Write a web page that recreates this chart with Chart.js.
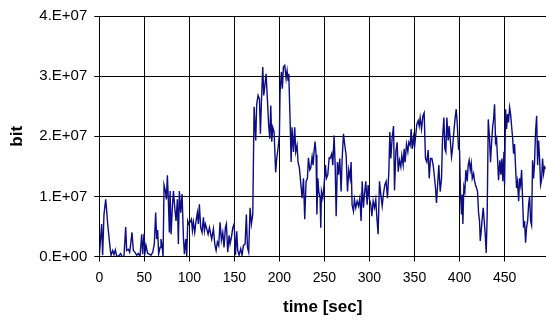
<!DOCTYPE html>
<html>
<head>
<meta charset="utf-8">
<script src="https://cdn.jsdelivr.net/npm/chart.js@4/dist/chart.umd.min.js"></script>
<style>
  html, body { margin: 0; padding: 0; background: #fff; overflow: hidden; }
  #wrap { width: 546px; height: 321px; position: relative; }
</style>
</head>
<body>
<div id="wrap"><canvas id="c" width="546" height="321"></canvas></div>
<script>
// time in seconds
const times = [
  0, 2.6, 3.7, 5.2, 7.1, 8.2, 9.3, 10.8, 11.9, 13.0, 14.9, 16.3, 17.8, 19.3, 21.1, 23.7, 25.2, 27.4, 29.3, 30.4,
  32.3, 33.7, 34.9, 36.3, 37.8, 39.7, 41.5, 43.4, 45.2, 47.1, 48.2, 49.7, 50.8, 51.9, 53.7, 55.6, 57.4, 59.3, 61.1, 62.6,
  63.7, 64.8, 65.9, 67.4, 68.5, 69.7, 70.8, 71.9, 73.4, 74.5, 75.6, 76.7, 77.8, 78.6, 79.7, 81.1, 82.3, 84.1, 85.2, 86.7,
  87.8, 88.9, 90.4, 91.9, 93.4, 94.5, 96.0, 97.1, 98.2, 99.3, 100.8, 102.3, 103.4, 104.5, 106.0, 107.4, 108.9, 110.0, 111.1, 112.6,
  114.1, 115.6, 116.7, 117.8, 119.3, 120.8, 122.3, 123.7, 124.8, 126.7, 128.2, 129.7, 131.1, 132.6, 134.1, 135.6, 137.1, 138.5, 140.0, 141.1,
  142.6, 144.1, 145.2, 146.7, 148.2, 149.7, 151.2, 152.6, 153.7, 155.2, 157.1, 158.5, 160.0, 161.9, 163.3, 164.5, 165.9, 167.4, 168.9, 170.4,
  171.9, 173.7, 174.8, 176.3, 177.8, 178.9, 180.0, 181.5, 182.6, 183.7, 185.2, 186.7, 188.1, 189.3, 190.4, 191.5, 192.6, 194.1, 195.8, 197.0,
  198.5, 200.0, 200.7, 202.2, 203.3, 204.4, 205.9, 207.4, 208.5, 209.6, 210.4, 211.9, 213.0, 214.0, 215.6, 217.0, 218.1, 219.6, 220.7, 222.2,
  223.7, 225.2, 226.7, 228.1, 229.6, 231.1, 232.2, 233.7, 234.8, 236.3, 237.4, 238.5, 239.6, 240.7, 241.6, 242.7, 243.7, 245.2, 245.9, 246.7,
  248.1, 249.6, 251.1, 252.2, 253.7, 255.2, 256.3, 258.1, 259.3, 260.7, 261.9, 263.0, 264.4, 265.6, 267.0, 268.5, 269.6, 271.1, 272.6, 274.1,
  275.6, 277.0, 278.5, 279.6, 280.7, 282.2, 283.3, 284.8, 286.3, 287.8, 289.3, 290.7, 291.9, 293.3, 294.4, 295.9, 297.4, 298.5, 300.0, 301.5,
  302.6, 304.1, 305.6, 307.0, 308.1, 309.6, 311.1, 312.6, 314.1, 315.6, 317.0, 318.5, 320.0, 321.5, 322.6, 323.7, 325.2, 326.7, 327.8, 329.3,
  330.7, 331.9, 333.3, 334.8, 335.9, 337.4, 338.5, 339.6, 341.1, 342.6, 343.7, 345.2, 346.3, 347.4, 348.9, 350.0, 351.5, 352.6, 354.1, 355.2,
  356.3, 357.8, 359.3, 360.7, 362.2, 363.7, 365.2, 366.3, 367.8, 369.3, 370.7, 371.9, 373.3, 374.4, 375.9, 377.0, 378.5, 380.0, 381.1, 382.6,
  383.7, 384.8, 385.9, 387.4, 388.5, 389.6, 391.1, 392.2, 393.3, 394.8, 396.3, 397.4, 398.9, 400.0, 401.1, 402.2, 403.0, 403.7, 404.8, 405.9,
  407.0, 408.5, 409.6, 410.7, 411.9, 413.0, 414.1, 415.6, 416.7, 417.8, 418.9, 420.0, 421.1, 422.2, 423.0, 424.1, 425.2, 426.3, 427.4, 428.5,
  429.6, 430.7, 431.9, 433.3, 434.4, 435.6, 436.7, 437.8, 438.9, 440.0, 441.1, 442.2, 443.3, 444.8, 445.9, 447.0, 448.1, 449.3, 450.0, 451.1,
  452.2, 453.3, 454.4, 455.6, 456.7, 457.8, 458.9, 460.0, 461.1, 462.2, 463.3, 464.4, 465.6, 466.7, 467.8, 468.9, 470.0, 471.1, 472.2, 473.3,
  474.4, 475.6, 476.7, 477.8, 478.9, 480.0, 481.1, 482.2, 483.3, 484.4, 485.6, 486.7, 487.8, 488.9, 490.0, 491.1, 492.2, 493.3, 494.4, 495.6
];
// bit values in millions (x 1e6 bit)
const bitsMillions = [
  0, 5.4, 0.2, 7.0, 9.5, 7.6, 5.4, 3.2, 1.5, 0.2, 1.0, 0.3, 1.1, 0.1, 0, 0.5, 0, 0, 4.9, 1.0,
  1.2, 0.7, 2.1, 4.0, 1.0, 0.7, 0.2, 0.5, 0, 3.7, 0.4, 3.8, 0.7, 1.8, 0.5, 0.4, 0.2, 0.7, 2.1, 7.3,
  2.9, 4.4, 0.4, 1.5, 2.9, 1.8, 0, 11.9, 10.9, 9.5, 13.5, 9.2, 4.0, 10.9, 3.7, 8.1, 10.9, 7.6, 5.9, 9.5,
  2.1, 10.9, 7.3, 10.4, 3.2, 0.4, 2.9, 0, 5.9, 5.4, 5.7, 6.2, 4.3, 5.7, 4.0, 5.9, 7.3, 5.4, 8.7, 4.8,
  4.0, 6.5, 4.3, 5.4, 4.6, 3.7, 4.8, 3.7, 2.9, 4.6, 2.1, 1.0, 2.4, 1.8, 5.7, 2.7, 4.0, 1.5, 4.8, 5.4,
  0.7, 3.5, 2.1, 3.2, 4.8, 5.4, 0.2, 4.2, 1.0, 0.2, 1.3, 0.2, 1.8, 2.1, 7.0, 1.5, 0.7, 8.1, 5.4, 7.0,
  24.9, 19.3, 25.4, 26.8, 26.2, 20.4, 25.7, 31.5, 26.8, 28.2, 30.4, 26.0, 21.8, 19.6, 25.1, 19.1, 21.5, 20.7, 14.0, 16.3,
  18.0, 20.2, 27.3, 30.7, 27.9, 31.5, 31.8, 29.6, 30.9, 29.3, 30.4, 22.4, 15.7, 21.5, 17.4, 21.5, 17.4, 18.5, 15.7, 14.7,
  12.2, 9.7, 13.0, 6.2, 12.5, 13.0, 16.4, 14.4, 14.7, 16.6, 15.2, 17.5, 19.1, 16.9, 7.0, 13.0, 10.8, 9.7, 4.8, 10.8,
  9.7, 11.9, 15.2, 13.0, 13.6, 16.4, 16.3, 17.1, 15.2, 20.1, 15.2, 6.7, 15.7, 13.6, 16.3, 10.8, 16.0, 20.4, 18.5, 16.8,
  10.8, 14.4, 13.0, 15.7, 8.6, 7.5, 9.5, 8.1, 9.2, 8.4, 9.7, 5.9, 12.5, 8.1, 10.3, 12.5, 8.6, 11.9, 9.5, 8.6,
  6.7, 9.2, 8.1, 9.5, 6.7, 3.7, 12.5, 10.3, 8.4, 10.5, 11.9, 12.5, 9.7, 14.1, 20.7, 16.3, 19.8, 21.7, 11.0, 17.4,
  19.0, 14.1, 16.0, 14.9, 16.8, 15.2, 17.9, 15.7, 18.7, 17.4, 19.0, 18.5, 21.2, 17.9, 19.8, 18.2, 20.4, 22.0, 22.6, 21.7,
  23.1, 21.2, 23.4, 23.9, 16.3, 15.7, 17.7, 13.0, 16.3, 16.3, 15.2, 13.6, 11.4, 8.9, 12.5, 15.2, 10.8, 13.0, 19.6, 23.1,
  17.9, 17.4, 23.1, 19.3, 21.7, 19.6, 16.6, 17.9, 20.1, 22.6, 24.5, 22.3, 17.9, 17.7, 10.3, 7.0, 10.3, 5.4, 11.6, 10.8,
  14.4, 12.5, 15.2, 16.0, 14.4, 15.5, 13.0, 13.8, 12.5, 11.9, 11.4, 10.8, 7.3, 5.9, 2.6, 4.3, 6.4, 8.1, 5.9, 3.7,
  0.6, 7.0, 22.8, 19.6, 15.7, 19.0, 21.5, 22.8, 25.3, 19.0, 19.6, 16.3, 12.7, 16.0, 13.6, 16.3, 12.5, 17.4, 11.9, 24.5,
  21.2, 23.7, 22.3, 24.8, 23.7, 21.7, 19.8, 17.1, 18.7, 14.9, 11.4, 12.5, 9.2, 13.0, 11.9, 14.4, 9.5, 4.8, 5.9, 2.3,
  4.8, 5.9, 8.6, 10.0, 5.9, 5.2, 16.0, 13.0, 15.7, 20.7, 23.4, 15.2, 19.3, 16.3, 11.9, 12.7, 16.3, 13.8, 14.9, 14.6
];
const xTickValues = [0, 50, 100, 150, 200, 250, 300, 350, 400, 450];
const xTickLabels = ['0', '50', '100', '150', '200', '250', '300', '350', '400', '450'];
const yTickLabels = ['0.E+00', '1.E+07', '2.E+07', '3.E+07', '4.E+07'];

const points = times.map((t, i) => ({ x: t, y: bitsMillions[i] }));

new Chart(document.getElementById('c'), {
  type: 'line',
  data: {
    datasets: [{
      data: points,
      borderColor: '#0c0c84',
      borderWidth: 1.4,
      pointRadius: 0,
      tension: 0,
      fill: false
    }]
  },
  options: {
    responsive: false,
    animation: false,
    events: [],
    layout: { padding: { left: 0, top: 13, right: 0, bottom: 0 } },
    plugins: { legend: { display: false }, tooltip: { enabled: false } },
    scales: {
      x: {
        type: 'linear',
        min: 0,
        max: 496,
        afterBuildTicks: (axis) => { axis.ticks = xTickValues.map(v => ({ value: v })); },
        afterFit: (axis) => { axis.height = 64.5; },
        ticks: {
          autoSkip: false,
          maxRotation: 0,
          padding: 8,
          color: '#000',
          font: { family: 'Liberation Sans, Arial, sans-serif', size: 14 },
          callback: (v) => { const i = xTickValues.indexOf(v); return i >= 0 ? xTickLabels[i] : ''; }
        },
        grid: { color: '#000', lineWidth: 1, tickLength: 5 },
        border: { color: '#000', width: 1 },
        title: {
          display: true,
          text: 'time [sec]',
          color: '#000',
          font: { family: 'Liberation Sans, Arial, sans-serif', size: 17, weight: 'bold' },
          padding: { top: 0, bottom: 3 }
        }
      },
      y: {
        min: 0,
        max: 40,
        afterFit: (axis) => { axis.width = 99.3; },
        ticks: {
          stepSize: 10,
          padding: 7,
          color: '#000',
          font: { family: 'Liberation Sans, Arial, sans-serif', size: 15 },
          callback: (v, i) => yTickLabels[i]
        },
        grid: { color: '#000', lineWidth: 1, tickLength: 5 },
        border: { color: '#000', width: 1 },
        title: {
          display: true,
          text: 'bit',
          color: '#000',
          font: { family: 'Liberation Sans, Arial, sans-serif', size: 17, weight: 'bold' },
          padding: { top: 7, bottom: 0 }
        }
      }
    }
  }
});
</script>
</body>
</html>
